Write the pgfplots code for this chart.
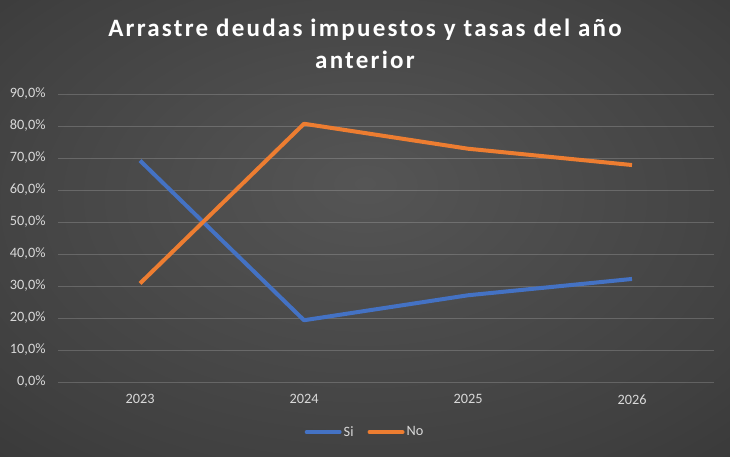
\documentclass[border=0pt]{standalone}
\usepackage{fontspec}
\setmainfont{Carlito}
\newfontfamily\titlefont[LetterSpace=9]{Carlito}
\usepackage{pgfplots}
\pgfplotsset{compat=1.18}
\definecolor{siblue}{HTML}{4472C4}
\definecolor{noorange}{HTML}{ED7D31}
\definecolor{ticktext}{HTML}{D9D9D9}
\definecolor{bgin}{HTML}{555555}
\definecolor{bgmid}{HTML}{404040}
\definecolor{bgout}{HTML}{262626}
\pgfdeclareradialshading{bgshade}{\pgfpoint{0bp}{5bp}}{color(0bp)=(bgin); color(30bp)=(bgmid); color(60bp)=(bgout)}

\begin{document}
\begin{tikzpicture}
% background, 1pt = 1px of the reference
\shade[shading=bgshade] (0pt,0pt) rectangle (730pt,457pt);
\node[text=white, align=center, font=\titlefont\bfseries\fontsize{25}{32}\selectfont]
  at (365pt,413pt) {Arrastre deudas impuestos y tasas del año\\anterior};
\begin{axis}[
  at={(58pt,75pt)}, anchor=south west,
  scale only axis,
  width=656pt, height=288pt,
  xmin=-0.5, xmax=3.5,
  ymin=0, ymax=90,
  xtick={0,1,2,3},
  xticklabels={2023,2024,2025,2026},
  ytick={0,10,...,90},
  yticklabel={\pgfmathprintnumber[fixed,fixed zerofill,precision=1,use comma]{\tick}\%},
  /pgf/number format/assume math mode=true,
  ymajorgrids,
  grid style={white, opacity=0.18, line width=0.8pt},
  axis line style={draw=none},
  major tick length=0pt,
  tick label style={text=ticktext, font=\fontsize{14.3}{17}\selectfont},
  yticklabel style={xshift=-9pt},
  xticklabel style={yshift=-9pt},
  legend style={at={(0.468,-0.174)}, anchor=center, draw=none, fill=none,
    text=ticktext, font=\fontsize{14.3}{17}\selectfont,
    /tikz/every even column/.append style={column sep=12pt}},
  legend columns=2,
  legend image code/.code={\draw[#1, line cap=round] (0pt,0pt) -- (33pt,0pt);},
  every axis plot/.append style={line width=4pt, line join=round},
]
\addplot[siblue] coordinates {(0,69.2) (1,19.3) (2,27.1) (3,32.2)};
\addlegendentry{Si}
\addplot[noorange] coordinates {(0,30.8) (1,80.7) (2,72.9) (3,67.8)};
\addlegendentry{No}
\end{axis}
\end{tikzpicture}
\end{document}
